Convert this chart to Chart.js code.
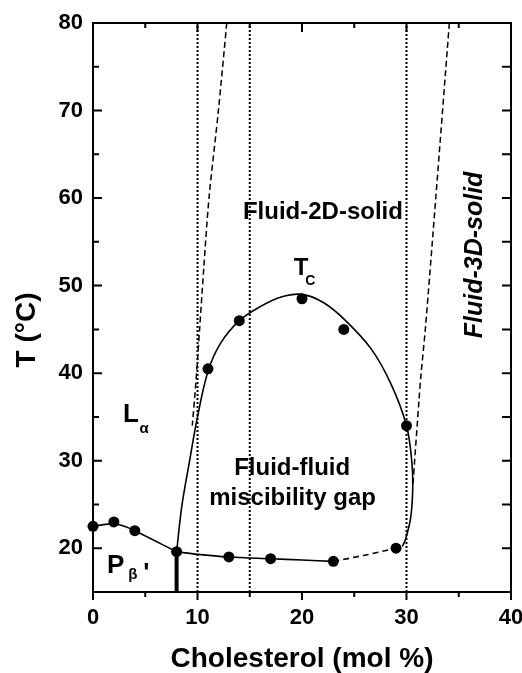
<!DOCTYPE html>
<html>
<head>
<meta charset="utf-8">
<title>Phase diagram</title>
<script src="https://cdn.jsdelivr.net/npm/chart.js@4.4.0/dist/chart.umd.min.js"></script>
<style>
  html, body { margin: 0; padding: 0; background: #fff; }
  #phase { display: block; }
</style>
</head>
<body>
<canvas id="phase" width="522" height="673"></canvas>
<script>
var FONT = '"Liberation Sans", Arial, Helvetica, sans-serif';

var xTicks = [0, 10, 20, 30, 40];
var yTicks = [20, 30, 40, 50, 60, 70, 80];
var xMin = 0, xMax = 40, yMin = 15, yMax = 80;

// measured transition temperatures
var dotX = [0, 2, 4, 8, 11, 13, 14, 17, 20, 23, 24, 29, 30];
var dotT = [22.5, 23, 22, 19.6, 40.5, 19, 46, 18.8, 48.5, 18.5, 45, 20, 34];

// main transition line (P-beta' / L-alpha)
var mainX = [0, 1, 2, 3, 4, 8];
var mainT = [22.5, 22.7, 22.8, 22.5, 22, 19.6];

// lower edge of the miscibility gap
var baseX = [8, 10, 13, 17, 20, 23];
var baseT = [19.6, 19.3, 19.0, 18.8, 18.65, 18.5];
var baseDashX = [23, 26, 29];
var baseDashT = [18.5, 19.2, 20];

// vertical boundary at 8 mol %
var wallX = [8, 8];
var wallT = [15, 19.6];

// miscibility gap dome
var domeX = [8, 8.5, 9.2, 10, 11, 12.2, 14, 16, 18, 20, 22, 24, 26.6, 28.5, 30, 30.5, 30.6, 30.4, 29.9, 29.6];
var domeT = [19.6, 24.8, 29.7, 35, 40.2, 43.4, 46, 47.6, 48.7, 49, 48.1, 46.2, 42.8, 38.8, 34, 30, 27, 23.5, 21, 20.2];

// solid-phase boundaries (dashed)
var leftDashX = [12.8, 12.0, 11.1, 10.6, 10.2, 9.85, 9.5];
var leftDashT = [80, 70, 60, 52, 45, 39, 34];
var rightDashX = [34.1, 32.8, 31.8, 31.4, 31.2, 30.6];
var rightDashT = [80, 60, 45, 40, 37, 27];

// dotted composition markers
var dottedX = [10, 15, 30];

function pts(xs, ys) {
  return xs.map(function(x, i) { return { x: x, y: ys[i] }; });
}

function line(data, width, dash, tension) {
  return {
    data: data,
    showLine: true,
    borderColor: '#000',
    borderWidth: width,
    borderDash: dash || [],
    pointRadius: 0,
    tension: tension || 0,
    fill: false
  };
}

var datasets = [{
  data: pts(dotX, dotT),
  showLine: false,
  clip: false,
  pointRadius: 5.5,
  pointBackgroundColor: '#000',
  pointBorderColor: '#000',
  pointBorderWidth: 0
}];
datasets.push(line(pts(mainX, mainT), 1.6, null, 0.3));
datasets.push(line(pts(baseX, baseT), 1.6, null, 0.3));
datasets.push(line(pts(baseDashX, baseDashT), 1.6, [6, 4], 0.3));
datasets.push(line(pts(wallX, wallT), 4));
datasets.push(line(pts(domeX, domeT), 1.6, null, 0.35));
datasets.push(line(pts(leftDashX, leftDashT), 1.5, [6, 3.5], 0.3));
datasets.push(line(pts(rightDashX, rightDashT), 1.5, [6, 3.5], 0.3));
dottedX.forEach(function(x) {
  datasets.push(line([{ x: x, y: yMin }, { x: x, y: yMax }], 2, [2, 2]));
});

// frame, inward/outward ticks, y title and region labels
var framePlugin = {
  id: 'frame',
  afterDraw: function(chart) {
    var ctx = chart.ctx, a = chart.chartArea;
    var sx = chart.scales.x, sy = chart.scales.y;
    ctx.save();
    ctx.strokeStyle = '#000';
    ctx.lineWidth = 2;
    ctx.strokeRect(a.left, a.top, a.right - a.left, a.bottom - a.top);

    ctx.beginPath();
    for (var v = xMin; v <= xMax; v += 5) {
      var px = sx.getPixelForValue(v), major = v % 10 === 0;
      ctx.moveTo(px, a.bottom);
      ctx.lineTo(px, a.bottom + (major ? 8 : 5));
      ctx.moveTo(px, a.top);
      ctx.lineTo(px, a.top + (major ? 9 : 5));
    }
    for (var t = yMin; t <= yMax; t += 5) {
      var py = sy.getPixelForValue(t), big = t % 10 === 0;
      ctx.moveTo(a.left, py);
      ctx.lineTo(a.left + (big ? 9 : 6), py);
      ctx.moveTo(a.right, py);
      ctx.lineTo(a.right - 9, py);
    }
    ctx.stroke();

    ctx.fillStyle = '#000';
    function txt(s, x, y, size, style, align) {
      ctx.font = (style || 'bold') + ' ' + size + 'px ' + FONT;
      ctx.textAlign = align || 'left';
      ctx.textBaseline = 'alphabetic';
      ctx.fillText(s, sx.getPixelForValue(x), sy.getPixelForValue(y));
    }
    txt('Fluid-2D-solid', 22.0, 57.6, 24, 'bold', 'center');
    txt('T', 19.2, 51.2, 24);
    txt('C', 20.3, 50.05, 14);
    txt('L', 2.88, 34.45, 26);
    txt('\u03B1', 4.44, 33.2, 15);
    txt('Fluid-fluid', 19.06, 28.4, 24, 'bold', 'center');
    txt('miscibility gap', 19.1, 24.9, 24, 'bold', 'center');
    txt('P', 1.34, 17.15, 26);
    txt('\u03B2', 3.38, 16.5, 15);
    txt('\'', 4.82, 16.2, 26);

    // rotated label beside the right dashed boundary
    ctx.save();
    ctx.translate(sx.getPixelForValue(37.2), sy.getPixelForValue(53.5));
    ctx.rotate(-Math.PI / 2);
    ctx.font = 'italic bold 25px ' + FONT;
    ctx.textAlign = 'center';
    ctx.fillText('Fluid-3D-solid', 0, 0);
    ctx.restore();

    // y axis title
    ctx.translate(35, 330);
    ctx.rotate(-Math.PI / 2);
    ctx.font = 'bold 28px ' + FONT;
    ctx.textAlign = 'center';
    ctx.fillText('T (\u00B0C)', 0, 0);
    ctx.restore();
  }
};

function start() {
  var ctx = document.getElementById('phase').getContext('2d');
  var chart = new Chart(ctx, {
    type: 'scatter',
    data: { datasets: datasets },
    plugins: [framePlugin],
    options: {
      responsive: false,
      animation: false,
      layout: { padding: { top: 23, right: 11, left: 0, bottom: 0 } },
      plugins: { legend: { display: false }, tooltip: { enabled: false } },
      scales: {
        x: {
          type: 'linear', min: xMin, max: xMax,
          afterBuildTicks: function(s) { s.ticks = xTicks.map(function(v) { return { value: v }; }); },
          afterFit: function(s) { s.height = 81; s.paddingLeft = 0; s.paddingRight = 0; },
          ticks: { color: '#000', padding: 13, maxRotation: 0, font: { family: FONT, size: 22, weight: 'bold' } },
          grid: { display: false, drawTicks: false },
          border: { display: false },
          title: {
            display: true, text: 'Cholesterol (mol %)', color: '#000', padding: 0,
            font: { family: FONT, size: 28, weight: 'bold', lineHeight: 1 }
          }
        },
        y: {
          type: 'linear', min: yMin, max: yMax,
          afterBuildTicks: function(s) { s.ticks = yTicks.map(function(v) { return { value: v }; }); },
          afterFit: function(s) { s.width = 93; s.paddingTop = 0; s.paddingBottom = 0; },
          ticks: { color: '#000', padding: 10, font: { family: FONT, size: 22, weight: 'bold' } },
          grid: { display: false, drawTicks: false },
          border: { display: false }
        }
      }
    }
  });
}

window.onload = start;
</script>
</body>
</html>
